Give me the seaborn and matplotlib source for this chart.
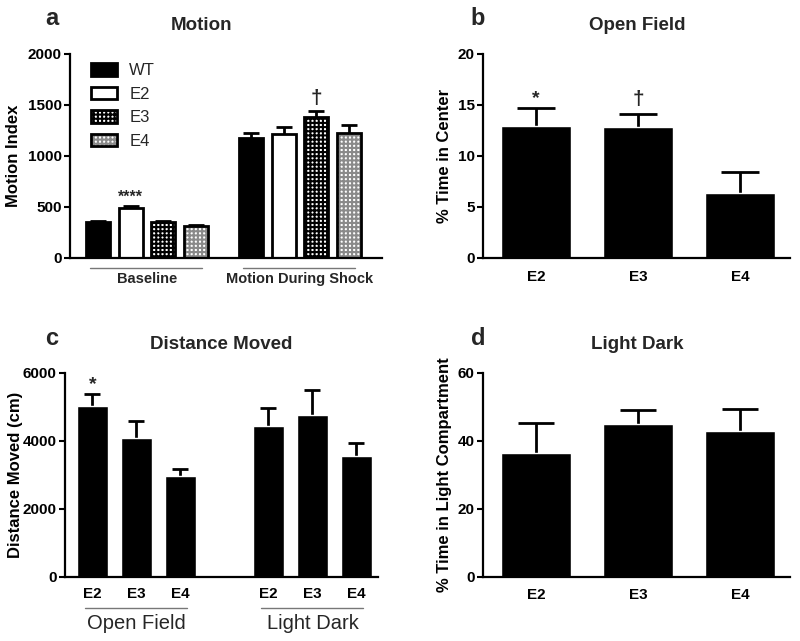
import matplotlib
matplotlib.use("Agg")
import matplotlib.pyplot as plt
import seaborn as sns
import pandas as pd
import numpy as np
from matplotlib.colors import to_rgba
from matplotlib.transforms import blended_transform_factory

sns.set_theme(style="ticks")
plt.rcParams['font.family'] = ['Liberation Sans', 'DejaVu Sans']
plt.rcParams['font.weight'] = 'bold'
plt.rcParams['hatch.linewidth'] = 1.5

# ---------------- data ----------------
genotypes = ["WT", "E2", "E3", "E4"]
motion_phases = ["Baseline", "Motion During Shock"]
motion_baseline = [355, 492, 350, 312]
motion_baseline_sem = [12, 20, 12, 14]
motion_shock = [1175, 1217, 1385, 1228]
motion_shock_sem = [55, 65, 57, 72]

apoe = ["E2", "E3", "E4"]
center_time = [12.9, 12.85, 6.4]
center_time_sem = [1.8, 1.25, 2.0]

dist_tests = ["Open Field", "Light Dark"]
dist_open_field = [5020, 4100, 2980]
dist_open_field_sem = [360, 475, 195]
dist_light_dark = [4455, 4770, 3570]
dist_light_dark_sem = [530, 730, 385]

light_time = [36.6, 45.1, 42.8]
light_time_sem = [8.6, 4.1, 6.6]

# ---------------- figure ----------------
W, H = 800, 641
fig = plt.figure(figsize=(W / 100, H / 100), dpi=100)

TICK_FS = 11
YLAB_FS = 12
TITLE_FS = 13.5


def px_axes(l, t, r, b):
    return fig.add_axes([l / W, 1 - b / H, (r - l) / W, (b - t) / H])


def style_axes(ax, yticks, ylim):
    ax.set_ylim(*ylim)
    ax.set_yticks(yticks)
    for s in ["top", "right"]:
        ax.spines[s].set_visible(False)
    for s in ["left", "bottom"]:
        ax.spines[s].set_linewidth(1.6)
        ax.spines[s].set_color("black")
    ax.tick_params(axis="y", length=4, width=1.5, labelsize=TICK_FS, pad=2, colors="black")
    ax.tick_params(axis="x", length=0, labelsize=TICK_FS, colors="black")
    for lab in ax.get_yticklabels() + ax.get_xticklabels():
        lab.set_fontweight("bold")
    ax.set_xlabel("")


def add_errors(ax, patches, sems, capsize):
    xs = [p.get_x() + p.get_width() / 2 for p in patches]
    ys = [p.get_height() for p in patches]
    _, caps, _ = ax.errorbar(xs, ys, yerr=[np.zeros(len(sems)), sems], fmt="none",
                             ecolor="black", elinewidth=2, capsize=capsize,
                             capthick=2, zorder=1)
    # keep only the upper caps (one-sided SEM)
    for c in caps:
        if np.allclose(c.get_ydata(), ys):
            c.set_visible(False)
    return xs, ys


def fig_text(x, y, s, **kw):
    fig.text(x / W, 1 - y / H, s, **kw)


# ---------------- panel a ----------------
ax_a = px_axes(70, 54, 382, 258)
df_a = pd.DataFrame({
    "phase": [motion_phases[0]] * 4 + [motion_phases[1]] * 4,
    "genotype": genotypes * 2,
    "value": motion_baseline + motion_shock,
})
pal_a = {"WT": "black", "E2": "white", "E3": "white", "E4": "white"}
sns.barplot(data=df_a, x="phase", y="value", hue="genotype", order=motion_phases,
            hue_order=genotypes, palette=pal_a, edgecolor="black", linewidth=2,
            width=0.86, gap=0.27, errorbar=None, legend=False, ax=ax_a, zorder=2,
            saturation=1)
hatch_colors = {"E3": "black", "E4": "#8a8a8a"}
sems_a = {g: [motion_baseline_sem[i], motion_shock_sem[i]] for i, g in enumerate(genotypes)}
bar_tops = {}
for g, cont in zip(genotypes, ax_a.containers):
    if g in hatch_colors:
        for p in cont.patches:
            p.set_hatch("++++")
            p._hatch_color = to_rgba(hatch_colors[g])
    xs, ys = add_errors(ax_a, cont.patches, sems_a[g], capsize=6)
    bar_tops[g] = [(x, y + s) for x, y, s in zip(xs, ys, sems_a[g])]
ax_a.set_xlim(-0.503, 1.536)
style_axes(ax_a, [0, 500, 1000, 1500, 2000], (0, 2000))
ax_a.set_xticks([])
ax_a.set_ylabel("Motion Index", fontsize=YLAB_FS, fontweight="bold", color="black")
ax_a.yaxis.set_label_coords(-0.157, 0.5)
leg = ax_a.legend(handles=list(ax_a.containers), labels=genotypes, loc="upper left",
                  bbox_to_anchor=(0.067, 0.955), frameon=False, borderpad=0,
                  borderaxespad=0, handlelength=1.55, handleheight=0.8,
                  labelspacing=0.5, handletextpad=0.75,
                  prop={"family": "Liberation Sans", "weight": "normal", "size": 12})
x, y = bar_tops["E2"][0]
ax_a.annotate("****", (x, y), xytext=(0, 1), textcoords="offset points",
              ha="center", va="bottom", fontsize=11.5, fontweight="bold")
x, y = bar_tops["E3"][1]
ax_a.annotate("\u2020", (x, y), xytext=(0, 2), textcoords="offset points",
              ha="center", va="bottom", fontsize=15, fontweight="bold")
tr = blended_transform_factory(ax_a.transData, ax_a.transAxes)
for i, ph in enumerate(motion_phases):
    ax_a.plot([i - 0.37, i + 0.36], [-0.049, -0.049], transform=tr, color="#777777",
              lw=1, clip_on=False)
    ax_a.text(i, -0.105, ph, transform=tr, ha="center", va="center", fontsize=10.5,
              fontweight="bold")
fig_text(52, 25, "a", fontsize=17, fontweight="bold", ha="center", va="baseline")
fig_text(202, 30, "Motion", fontsize=TITLE_FS, fontweight="bold", ha="center", va="baseline")

# ---------------- panel b ----------------
ax_b = px_axes(483, 54, 790, 258)
df_b = pd.DataFrame({"genotype": apoe, "value": center_time})
sns.barplot(data=df_b, x="genotype", y="value", order=apoe, color="black",
            width=0.69, errorbar=None, ax=ax_b, zorder=2, saturation=1)
xs, ys = add_errors(ax_b, ax_b.patches, center_time_sem, capsize=14)
ax_b.set_xlim(-0.52, 2.49)
style_axes(ax_b, [0, 5, 10, 15, 20], (0, 20))
ax_b.tick_params(axis="x", pad=9)
ax_b.set_ylabel("% Time in Center", fontsize=YLAB_FS, fontweight="bold", color="black")
ax_b.yaxis.set_label_coords(-0.101, 0.5)
ax_b.annotate("*", (xs[0], ys[0] + center_time_sem[0]), xytext=(0, 1),
              textcoords="offset points", ha="center", va="bottom", fontsize=14,
              fontweight="bold")
ax_b.annotate("\u2020", (xs[1], ys[1] + center_time_sem[1]), xytext=(0, 4),
              textcoords="offset points", ha="center", va="bottom", fontsize=15,
              fontweight="bold")
fig_text(478, 25, "b", fontsize=17, fontweight="bold", ha="center", va="baseline")
fig_text(637, 30, "Open Field", fontsize=TITLE_FS, fontweight="bold", ha="center", va="baseline")

# ---------------- panel c ----------------
ax_c = px_axes(65, 373, 378, 577)
spacer = " "
df_c = pd.DataFrame({
    "cell": [f"{dist_tests[0]}-{g}" for g in apoe] + [f"{dist_tests[1]}-{g}" for g in apoe],
    "value": dist_open_field + dist_light_dark,
})
order_c = [f"{dist_tests[0]}-{g}" for g in apoe] + [spacer] + [f"{dist_tests[1]}-{g}" for g in apoe]
sns.barplot(data=df_c, x="cell", y="value", order=order_c, color="black",
            width=0.7, errorbar=None, ax=ax_c, zorder=2, saturation=1)
sems_c = dist_open_field_sem + dist_light_dark_sem
bar_patches = [p for p in ax_c.patches if p.get_height() > 0]
xs, ys = add_errors(ax_c, bar_patches, sems_c, capsize=6)
ax_c.set_xlim(-0.625, 6.49)
style_axes(ax_c, [0, 2000, 4000, 6000], (0, 6000))
ax_c.set_xticks([0, 1, 2, 4, 5, 6])
ax_c.set_xticklabels(apoe + apoe, fontweight="bold")
ax_c.tick_params(axis="x", pad=7)
ax_c.set_ylabel("Distance Moved (cm)", fontsize=YLAB_FS, fontweight="bold", color="black")
ax_c.yaxis.set_label_coords(-0.134, 0.5)
ax_c.annotate("*", (xs[0], ys[0] + sems_c[0]), xytext=(0, 1),
              textcoords="offset points", ha="center", va="bottom", fontsize=14,
              fontweight="bold")
tr = blended_transform_factory(ax_c.transData, ax_c.transAxes)
for start, name in [(0, dist_tests[0]), (4, dist_tests[1])]:
    ax_c.plot([start - 0.17, start + 2.15], [-0.152, -0.152], transform=tr,
              color="#777777", lw=1, clip_on=False)
    ax_c.text(start + 1, -0.23, name, transform=tr, ha="center", va="center",
              fontsize=14.5, fontweight="normal")
fig_text(52, 345, "c", fontsize=17, fontweight="bold", ha="center", va="baseline")
fig_text(221, 349, "Distance Moved", fontsize=TITLE_FS, fontweight="bold", ha="center", va="baseline")

# ---------------- panel d ----------------
ax_d = px_axes(483, 373, 790, 577)
df_d = pd.DataFrame({"genotype": apoe, "value": light_time})
sns.barplot(data=df_d, x="genotype", y="value", order=apoe, color="black",
            width=0.69, errorbar=None, ax=ax_d, zorder=2, saturation=1)
add_errors(ax_d, ax_d.patches, light_time_sem, capsize=13)
ax_d.set_xlim(-0.52, 2.49)
style_axes(ax_d, [0, 20, 40, 60], (0, 60))
ax_d.tick_params(axis="x", pad=8)
ax_d.set_ylabel("% Time in Light Compartment", fontsize=YLAB_FS, fontweight="bold", color="black")
ax_d.yaxis.set_label_coords(-0.101, 0.5)
fig_text(478, 345, "d", fontsize=17, fontweight="bold", ha="center", va="baseline")
fig_text(637, 349, "Light Dark", fontsize=TITLE_FS, fontweight="bold", ha="center", va="baseline")

fig.savefig("out.png", dpi=100, facecolor="white")
